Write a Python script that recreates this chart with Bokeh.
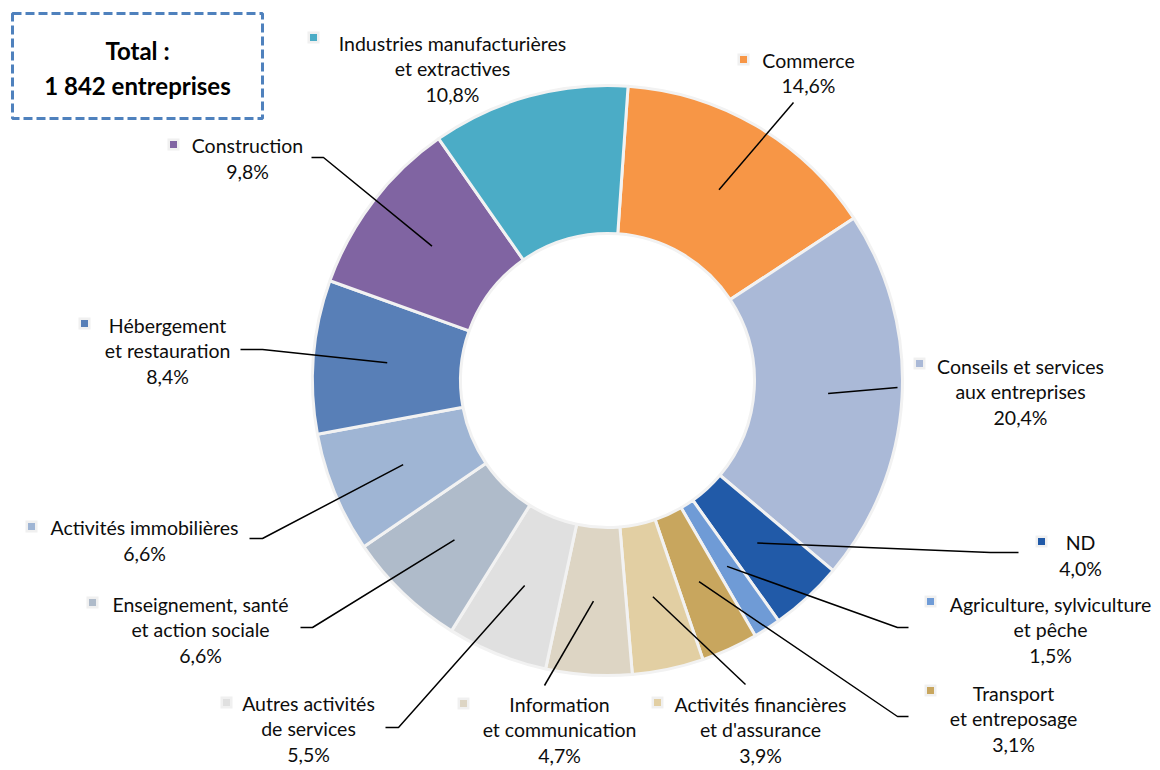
import math
from bokeh.plotting import figure
from bokeh.models import Range1d
from bokeh.embed import file_html
from bokeh.resources import INLINE
from bokeh.core.properties import value

# ---------------- data ----------------
categories = [
    "Commerce",
    "Conseils et services\naux entreprises",
    "ND",
    "Agriculture, sylviculture\net pêche",
    "Transport\net entreposage",
    "Activités financières\net d'assurance",
    "Information\net communication",
    "Autres activités\nde services",
    "Enseignement, santé\net action sociale",
    "Activités immobilières",
    "Hébergement\net restauration",
    "Construction",
    "Industries manufacturières\net extractives",
]
shares = [14.6, 20.4, 4.0, 1.5, 3.1, 3.9, 4.7, 5.5, 6.6, 6.6, 8.4, 9.8, 10.8]
colors = ["#F79646", "#AAB9D7", "#215AA8", "#6F9BD6", "#C8A65E", "#E2CFA3",
          "#DDD5C4", "#E0E0E0", "#AFBBCA", "#9FB5D4", "#587FB7", "#8064A2", "#4BACC6"]
total_lines = ["Total :", "1 842 entreprises"]

# ---------------- layout (page pixel coords) ----------------
W, H = 1160, 770
def X(px): return px
def Y(py): return H - py

CX, CY = 607, 380
R_OUT, R_IN = 295, 147
START_DEG = 4.0
FONT = "Lato"
FS = 19.5
LINE_GAP = 25.5

label_pos = [(808, 72.5), (1020, 391), (1080, 555), (1050, 629), (1013, 718),
             (760, 729), (559, 729), (308, 728), (200, 629), (144, 540),
             (167, 350), (247, 158), (452, 68)]
marker_pos = [(743, 59), (919, 363), (1041, 541), (930, 601), (930, 690),
              (657, 702), (463, 703), (226, 702), (92, 602), (31, 526),
              (84, 323), (173, 144), (313, 37)]
leader_pts = [[(793, 102)], [(897, 387)], [(990, 552), (1018, 552)],
              [(897, 627), (908, 627)], [(897, 716), (908, 716)],
              [(745, 684)], [(544, 685)], [(398, 727), (385, 727)],
              [(312, 627), (300, 627)], [(262, 538), (249, 538)],
              [(262, 349), (240, 349)], [(323, 157), (311, 157)], None]

p = figure(width=W, height=H, output_backend="svg", toolbar_location=None,
           x_range=Range1d(0, W), y_range=Range1d(0, H),
           min_border=0, x_axis_location=None, y_axis_location=None)
p.grid.visible = False
p.outline_line_color = None
p.background_fill_color = "white"

total = sum(shares)
cum = 0.0
starts, ends, mids = [], [], []
for s in shares:
    a1 = START_DEG + cum / total * 360.0
    cum += s
    a2 = START_DEG + cum / total * 360.0
    starts.append(math.radians(90 - a2))
    ends.append(math.radians(90 - a1))
    mids.append((a1 + a2) / 2)

p.annular_wedge(x=X(CX), y=Y(CY), inner_radius=R_IN, outer_radius=R_OUT,
                start_angle=starts, end_angle=ends, fill_color=colors,
                line_color="#F2F2F2", line_width=3)

# leader lines
xs, ys = [], []
for m, pts in zip(mids, leader_pts):
    if pts is None:
        continue
    r = (R_OUT + R_IN) / 2
    sx = CX + r * math.sin(math.radians(m))
    sy = CY - r * math.cos(math.radians(m))
    xs.append([X(sx)] + [X(q[0]) for q in pts])
    ys.append([Y(sy)] + [Y(q[1]) for q in pts])
p.multi_line(xs=xs, ys=ys, line_color="black", line_width=1.5)

# labels
tx, ty, tt = [], [], []
for name, s, (lx, ly) in zip(categories, shares, label_pos):
    lines = name.split("\n") + [f"{s:.1f}".replace(".", ",") + "%"]
    n = len(lines)
    for i, ln in enumerate(lines):
        tx.append(X(lx))
        ty.append(Y(ly + (i - (n - 1) / 2) * LINE_GAP))
        tt.append(ln)
p.text(x=tx, y=ty, text=tt, text_align="center", text_baseline="middle",
       text_font=value(FONT), text_font_size=f"{FS}px", text_color="#0D0D0D")

# legend-like markers
mx = [X(q[0]) for q in marker_pos]
my = [Y(q[1]) for q in marker_pos]
p.scatter(x=mx, y=my, marker="square", size=12, fill_color="#F0F0F0", line_color=None)
p.scatter(x=mx, y=my, marker="square", size=7, fill_color=colors, line_color=None)

# total box
p.quad(left=X(12), right=X(262), top=Y(13), bottom=Y(118), fill_color=None,
       line_color="#4F81BD", line_width=3, line_dash="9 4")
p.text(x=[X(137), X(137)], y=[Y(50), Y(85)], text=total_lines,
       text_align="center", text_baseline="middle", text_font=value(FONT),
       text_font_style="bold", text_font_size="24px", text_color="black")

open("out.html", "w").write(file_html(p, INLINE))
